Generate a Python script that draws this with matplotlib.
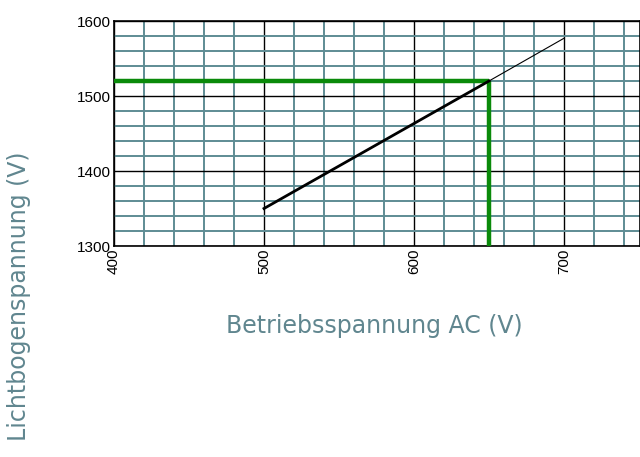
import numpy as np
from matplotlib import pyplot as plt
from matplotlib.ticker import MultipleLocator

plt.rcParams['font.family'] = 'Liberation Sans'

# characteristic line (operating voltage AC -> arc voltage)
curve_x = [500, 650, 700]
curve_y = [1350, 1520, 1577]

# green reading marker
mark_x = 650
mark_y = 1520

x_ticks = [400, 500, 600, 700]
y_ticks = [1300, 1400, 1500, 1600]

fig = plt.figure(figsize=(6.4, 4.57), dpi=100)
ax = fig.add_axes([114/640, 1 - 246/457, 1 - 114/640, 225/457])

ax.set_xlim(400, 400 + (640 - 114) / 1.5)
ax.set_ylim(1300, 1600)

ax.xaxis.set_minor_locator(MultipleLocator(20))
ax.yaxis.set_minor_locator(MultipleLocator(20))
ax.set_xticks(x_ticks)
ax.set_yticks(y_ticks)

ax.grid(which='minor', color='#5e8c94', linewidth=1.4)
ax.grid(which='major', color='black', linewidth=1.0)
ax.set_axisbelow(True)

ax.tick_params(which='both', length=0, pad=2, labelsize=11)
ax.tick_params(axis='x', labelrotation=90)

for s in ax.spines.values():
    s.set_color('black')
    s.set_linewidth(1.2)

# green guide lines
ax.plot([400, mark_x], [mark_y, mark_y], color='#0a8a0a', linewidth=3.2, solid_capstyle='butt', zorder=3)
ax.plot([mark_x, mark_x], [1300, mark_y], color='#0a8a0a', linewidth=3.2, solid_capstyle='butt', zorder=3)

# characteristic: thick part up to the marker, thin beyond
ax.plot(curve_x[:2], curve_y[:2], color='black', linewidth=2.0, zorder=4)
ax.plot(curve_x[1:], curve_y[1:], color='black', linewidth=0.8, zorder=4)

fig.text(374/640, 1 - 326/457, 'Betriebsspannung AC (V)', ha='center', va='center',
         fontsize=17, color='#60868f', family='DejaVu Sans')
fig.text(19/640, 1 - 296/457, 'Lichtbogenspannung (V)', ha='center', va='center',
         rotation=90, fontsize=17, color='#60868f', family='DejaVu Sans')

fig.savefig('out.png', dpi=100)
